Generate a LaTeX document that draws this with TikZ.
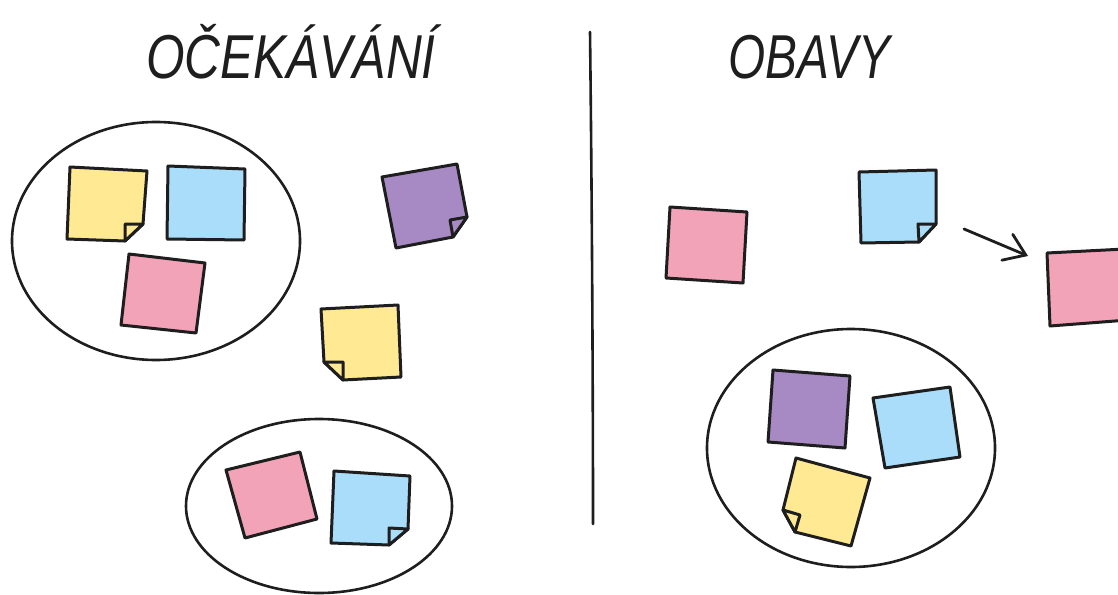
\documentclass[tikz,border=0pt]{standalone}
\usepackage{fontspec}
\newfontfamily\handfont{Liberation Sans}
\usepackage{tikz}
\usetikzlibrary{arrows.meta, positioning}

\definecolor{inkline}{HTML}{1E1E1E}
\definecolor{noteyellow}{HTML}{FFE993}
\definecolor{noteblue}{HTML}{A9DDF9}
\definecolor{notepink}{HTML}{F2A3B7}
\definecolor{notepurple}{HTML}{A78AC3}

\begin{document}
\begin{tikzpicture}[
                x=1pt, y=-1pt,
                note/.style={
                    draw=inkline,
                    line width=3pt,
                    line join=round
                },
                group/.style={
                    draw=inkline,
                    line width=2.6pt
                },
                divider/.style={
                    draw=inkline,
                    line width=2.6pt,
                    line cap=round
                },
                arrowline/.style={
                    draw=inkline,
                    line width=2.8pt,
                    line cap=round,
                    -{Straight Barb[length=20pt, width=28pt, line cap=round]}
                },
                title/.style={
                    font=\handfont\itshape\fontsize{62}{64}\selectfont,
                    text=inkline,
                    inner sep=0pt,
                    anchor=base west
                }
            ]

            \useasboundingbox (0,0) rectangle (1118,594);

            % --- Titles ---
            \node[title] (ocekavani) at (146,78) {\scalebox{0.8}[1]{OČEKÁVÁNÍ}};
            \node[title] (obavy) at (728,78) {\scalebox{0.77}[1]{OBAVY}};

            % --- Divider ---
            \coordinate (divtop) at (590,32);
            \coordinate (divbottom) at (593,524);
            \draw[divider] (divtop) .. controls (592,200) and (593,400) .. (divbottom);

            % --- Groups (ellipses) ---
            \draw[group] (156,241) ellipse [x radius=144, y radius=119];
            \draw[group] (319,506) ellipse [x radius=133, y radius=87];
            \draw[group] (851,448) ellipse [x radius=144, y radius=119];

            % --- Left side: first group ---
            \draw[note, fill=noteyellow] (70,167) -- (147,171) -- (143,224) -- (125,241) -- (67,239) -- cycle;
            \draw[note, fill=noteyellow] (125,224) -- (143,224) -- (125,241) -- cycle;
            \draw[note, fill=noteblue] (168,166) -- (245,169) -- (244,240) -- (167,239) -- cycle;
            \draw[note, fill=notepink] (129,254) -- (205,263) -- (196,333) -- (121,325) -- cycle;

            % --- Left side: loose notes ---
            \draw[note, fill=notepurple] (382,177) -- (457,164) -- (467,217) -- (453,237) -- (396,248) -- cycle;
            \draw[note, fill=notepurple] (450,220) -- (467,217) -- (453,237) -- cycle;
            \draw[note, fill=noteyellow] (321,309) -- (398,305) -- (401,377) -- (343,380) -- (324,362) -- cycle;
            \draw[note, fill=noteyellow] (343,362) -- (343,380) -- (324,362) -- cycle;

            % --- Left side: second group ---
            \draw[note, fill=notepink] (226,470) -- (300,452) -- (317,519) -- (245,538) -- cycle;
            \draw[note, fill=noteblue] (334,471) -- (410,476) -- (408,529) -- (389,545) -- (331,543) -- cycle;
            \draw[note, fill=noteblue] (389,528) -- (408,529) -- (389,545) -- cycle;

            % --- Right side: loose notes ---
            \draw[note, fill=notepink] (670,207) -- (747,212) -- (743,283) -- (666,278) -- cycle;
            \draw[note, fill=noteblue] (859,172) -- (936,170) -- (936,224) -- (919,242) -- (861,243) -- cycle;
            \draw[note, fill=noteblue] (918,224) -- (936,224) -- (919,242) -- cycle;
            \draw[note, fill=notepink] (1047,253) -- (1125,249) -- (1128,320) -- (1050,326) -- cycle;

            % --- Arrow ---
            \coordinate (arrowstart) at (964,229);
            \coordinate (arrowend) at (1028,256);
            \draw[arrowline] (arrowstart) -- (arrowend);

            % --- Right side: group ---
            \draw[note, fill=notepurple] (773,370) -- (850,376) -- (845,448) -- (768,442) -- cycle;
            \draw[note, fill=noteblue] (873,398) -- (950,387) -- (960,457) -- (885,468) -- cycle;
            \draw[note, fill=noteyellow] (796,458) -- (870,478) -- (851,546) -- (795,532) -- (783,510) -- cycle;
            \draw[note, fill=noteyellow] (800,515) -- (783,510) -- (795,532) -- cycle;

        \end{tikzpicture}
\end{document}
